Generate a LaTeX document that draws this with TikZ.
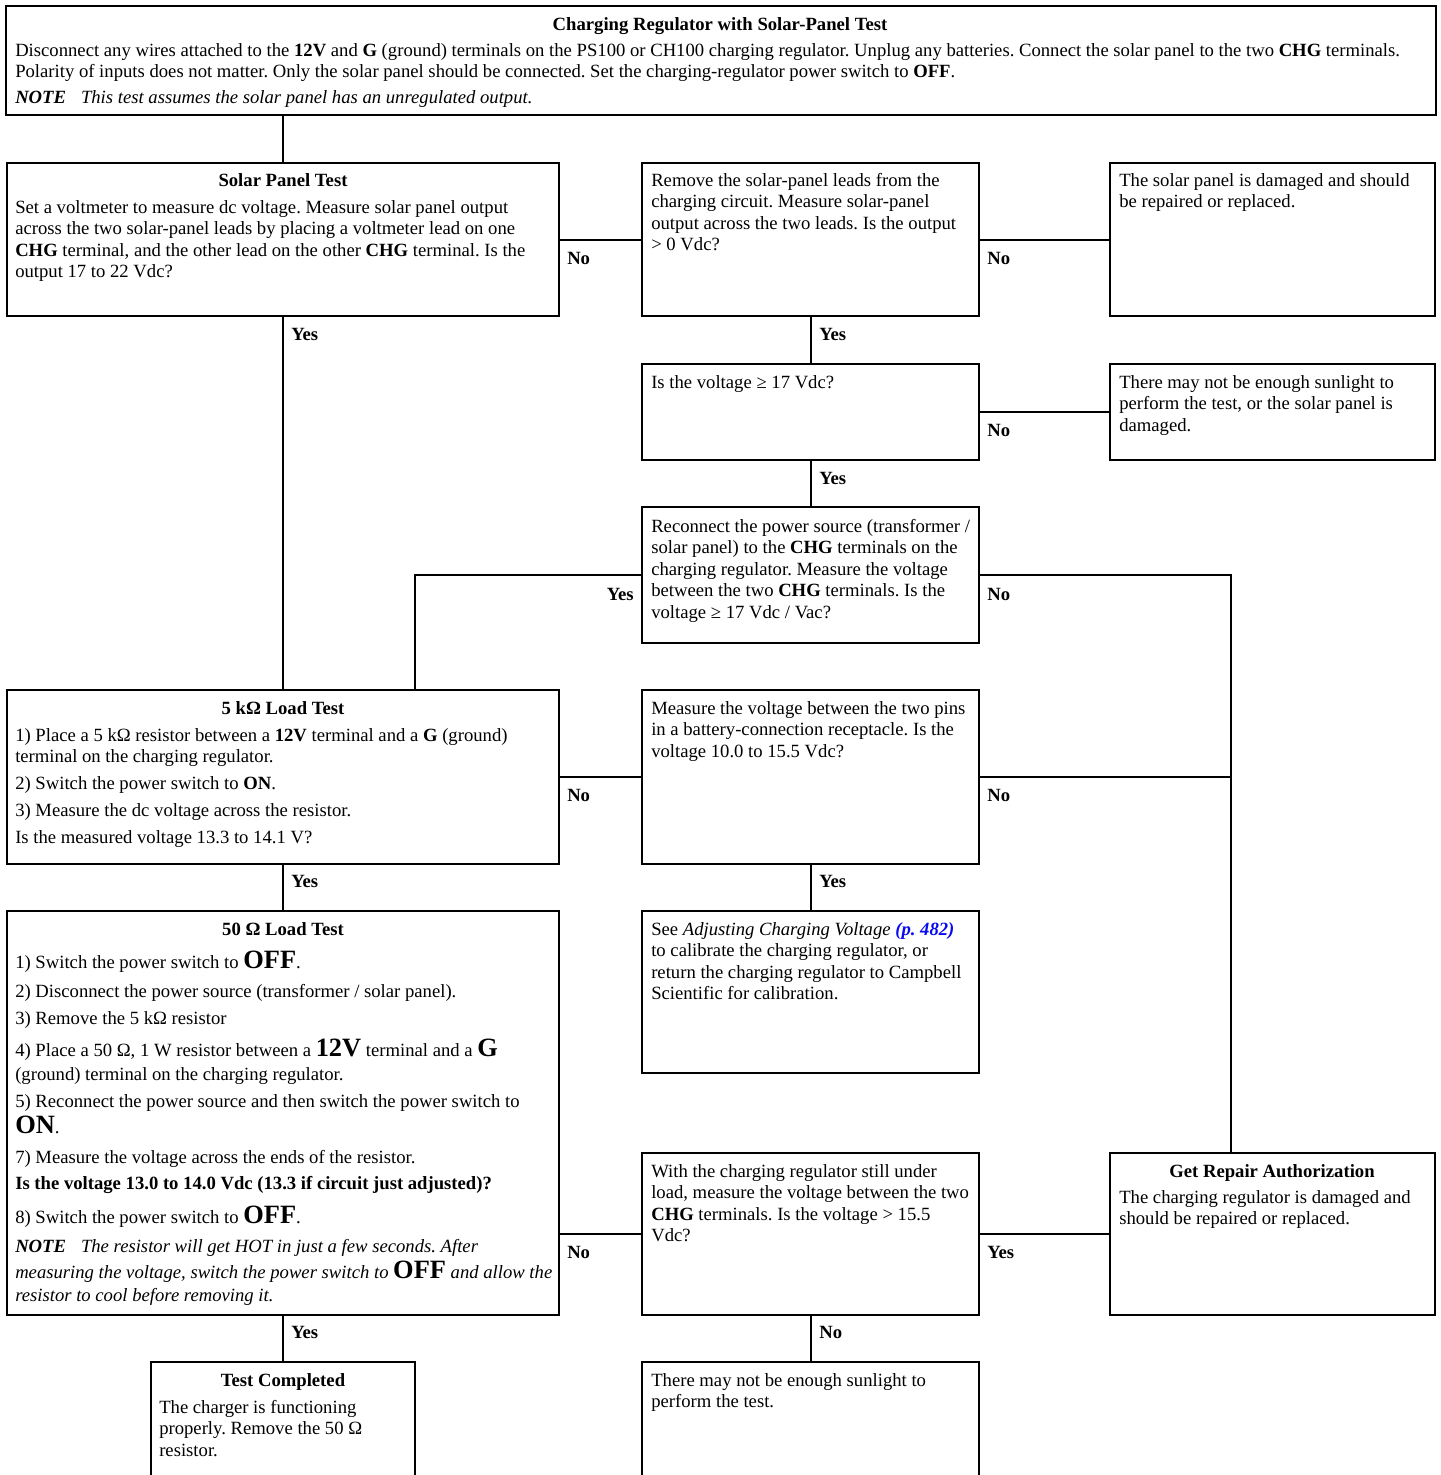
\documentclass[tikz,border=0pt]{standalone}
\usepackage{fontspec}
\setmainfont{Liberation Serif}
\usetikzlibrary{calc}
\definecolor{linkblue}{RGB}{10,10,240}
\tikzset{
  boxst/.style={draw, line width=1.5pt, inner sep=0pt, outer sep=0pt},
  txt/.style={anchor=north west, inner sep=0pt, align=left, font=\fontsize{14}{16.1}\selectfont\frenchspacing},
  ttl/.style={anchor=north, inner sep=0pt, align=center, font=\fontsize{14}{16.1}\selectfont\bfseries},
  lbl/.style={anchor=west, inner sep=0pt, font=\fontsize{14}{16}\selectfont\bfseries},
  lble/.style={lbl, anchor=east},
  conn/.style={line width=1.5pt},
}
\newcommand\fs{\rule{0pt}{12pt}}
\newcommand\fsb{\rule{0pt}{14pt}}
\newcommand\bigtxt[1]{{\fontsize{19.8}{16.1}\selectfont\textbf{#1}}}
\newcommand\mkbox[5]{\node[boxst, minimum width={(#4-#2)*0.75pt}, minimum height={(#5-#3)*0.75pt}] (#1) at ({(#2+#4)/2},{(#3+#5)/2}) {};}
\begin{document}
\begin{tikzpicture}[x=0.75pt, y=-0.75pt]
\useasboundingbox (0,0) rectangle (1440,1475);
\clip (0,0) rectangle (1440,1475);
\fill[white] (0,0) rectangle (1440,1475);
% boxes
\mkbox{top}{6}{6}{1436}{115}
\mkbox{sp}{7}{163}{559}{316}
\mkbox{rm}{642}{163}{979}{316}
\mkbox{dmg}{1110}{163}{1435}{316}
\mkbox{iv}{642}{364}{979}{460}
\mkbox{sun1}{1110}{364}{1435}{460}
\mkbox{rc}{642}{507}{979}{643}
\mkbox{fivek}{7}{690}{559}{864}
\mkbox{mv}{642}{690}{979}{864}
\mkbox{adj}{642}{911}{979}{1073}
\mkbox{fifty}{7}{911}{559}{1315}
\mkbox{wc}{642}{1153}{979}{1315}
\mkbox{gr}{1110}{1153}{1435}{1315}
\mkbox{tc}{151}{1362}{415}{1495}
\mkbox{sun2}{642}{1362}{979}{1495}
\coordinate (vj) at ($(gr.north west)+(121,0)$);
% connectors
\draw[conn] (sp.north) -- (sp.north |- top.south);
\draw[conn] (sp.east) -- (rm.west);
\draw[conn] (rm.east) -- (dmg.west);
\draw[conn] (rm.south) -- (iv.north);
\draw[conn] (iv.east) -- (sun1.west);
\draw[conn] (iv.south) -- (rc.north);
\draw[conn] (rc.west) -| ($(fivek.north)+(132,0)$);
\draw[conn] (rc.east) -| (vj);
\draw[conn] (sp.south) -- (fivek.north);
\draw[conn] (fivek.east) -- (mv.west);
\draw[conn] (mv.east) -- (mv.east -| vj);
\draw[conn] (fivek.south) -- (fifty.north);
\draw[conn] (mv.south) -- (adj.north);
\draw[conn] (wc.west) -- (wc.west -| fifty.east);
\draw[conn] (wc.east) -- (gr.west);
\draw[conn] (fifty.south) -- (tc.north);
\draw[conn] (wc.south) -- (sun2.north);
% texts
\node[ttl] (topT) at (720,14) {\fs Charging Regulator with Solar-Panel Test};
\node[txt] (topB) at (15,40) {\fs Disconnect any wires attached to the \textbf{12V} and \textbf{G} (ground) terminals on the PS100 or CH100 charging regulator. Unplug any batteries. Connect the solar panel to the two \textbf{CHG} terminals.\\
Polarity of inputs does not matter. Only the solar panel should be connected. Set the charging-regulator power switch to \textbf{OFF}.\\[3.4pt]
\textbf{\textit{NOTE}}\hspace{0.8em}\textit{This test assumes the solar panel has an unregulated output.}};
\node[ttl] (spT) at (283,170) {\fs Solar Panel Test};
\node[txt] (spB) at (15,197) {\fs Set a voltmeter to measure dc voltage. Measure solar panel output\\
across the two solar-panel leads by placing a voltmeter lead on one\\
\textbf{CHG} terminal, and the other lead on the other \textbf{CHG} terminal. Is the\\
output 17 to 22 Vdc?};
\node[txt] (rmB) at (651,170) {\fs Remove the solar-panel leads from the\\
charging circuit. Measure solar-panel\\
output across the two leads. Is the output\\
> 0 Vdc?};
\node[txt] (dmgB) at (1119,170) {\fs The solar panel is damaged and should\\
be repaired or replaced.};
\node[txt] (ivB) at (651,372) {\fs Is the voltage ≥ 17 Vdc?};
\node[txt] (sun1B) at (1119,372) {\fs There may not be enough sunlight to\\
perform the test, or the solar panel is\\
damaged.};
\node[txt] (rcB) at (651,516) {\fs Reconnect the power source (transformer /\\
solar panel) to the \textbf{CHG} terminals on the\\
charging regulator. Measure the voltage\\
between the two \textbf{CHG} terminals. Is the\\
voltage ≥ 17 Vdc / Vac?};
\node[ttl] (fivekT) at (283,698) {\fs 5 kΩ Load Test};
\node[txt] (fivekB) at (15,725) {\fs 1) Place a 5 kΩ resistor between a \textbf{12V} terminal and a \textbf{G} (ground)\\
terminal on the charging regulator.\\[4.1pt]
2) Switch the power switch to \textbf{ON}.\\[4.1pt]
3) Measure the dc voltage across the resistor.\\[4.1pt]
Is the measured voltage 13.3 to 14.1 V?};
\node[txt] (mvB) at (651,698) {\fs Measure the voltage between the two pins\\
in a battery-connection receptacle. Is the\\
voltage 10.0 to 15.5 Vdc?};
\node[txt] (adjB) at (651,919) {\fs See \textit{Adjusting Charging Voltage} \textcolor{linkblue}{\textbf{\textit{(p. 482)}}}\\
to calibrate the charging regulator, or\\
return the charging regulator to Campbell\\
Scientific for calibration.};
\node[ttl] (fiftyT) at (283,919) {\fs 50 Ω Load Test};
\node[txt] (fiftyB) at (15,950) {\fsb 1) Switch the power switch to \bigtxt{OFF}.\\[5.6pt]
2) Disconnect the power source (transformer / solar panel).\\[4.1pt]
3) Remove the 5 kΩ resistor\\[7.9pt]
4) Place a 50 Ω, 1 W resistor between a \bigtxt{12V} terminal and a \bigtxt{G}\\[1.9pt]
(ground) terminal on the charging regulator.\\[4.1pt]
5) Reconnect the power source and then switch the power switch to\\[3.4pt]
\bigtxt{ON}.\\[6.4pt]
7) Measure the voltage across the ends of the resistor.\\[3.4pt]
\textbf{Is the voltage 13.0 to 14.0 Vdc (13.3 if circuit just adjusted)?}\\[7.9pt]
8) Switch the power switch to \bigtxt{OFF}.\\[5.9pt]
\textbf{\textit{NOTE}}\hspace{0.8em}\textit{The resistor will get HOT in just a few seconds. After}\\[3.4pt]
\textit{measuring the voltage, switch the power switch to} \bigtxt{OFF} \textit{and allow the}\\[0.8pt]
\textit{resistor to cool before removing it.}};
\node[txt] (wcB) at (651,1161) {\fs With the charging regulator still under\\
load, measure the voltage between the two\\
\textbf{CHG} terminals. Is the voltage > 15.5\\
Vdc?};
\node[ttl] (grT) at (1272,1161) {\fs Get Repair Authorization};
\node[txt] (grB) at (1119,1187) {\fs The charging regulator is damaged and\\
should be repaired or replaced.};
\node[ttl] (tcT) at (283,1370) {\fs Test Completed};
\node[txt] (tcB) at (159,1397) {\fs The charger is functioning\\
properly. Remove the 50 Ω\\
resistor.};
\node[txt] (sun2B) at (651,1370) {\fs There may not be enough sunlight to\\
perform the test.};
% labels
\node[lbl] (l1) at (567,258) {No};
\node[lbl] (l2) at (987,258) {No};
\node[lbl] (l3) at (291,334) {Yes};
\node[lbl] (l4) at (819,334) {Yes};
\node[lbl] (l5) at (987,430) {No};
\node[lbl] (l6) at (819,478) {Yes};
\node[lble] (l7) at (634,594) {Yes};
\node[lbl] (l8) at (987,594) {No};
\node[lbl] (l9) at (567,795) {No};
\node[lbl] (l10) at (987,795) {No};
\node[lbl] (l11) at (291,881) {Yes};
\node[lbl] (l12) at (819,881) {Yes};
\node[lbl] (l13) at (567,1252) {No};
\node[lbl] (l14) at (987,1252) {Yes};
\node[lbl] (l15) at (291,1332) {Yes};
\node[lbl] (l16) at (819,1332) {No};
\end{tikzpicture}
\end{document}
